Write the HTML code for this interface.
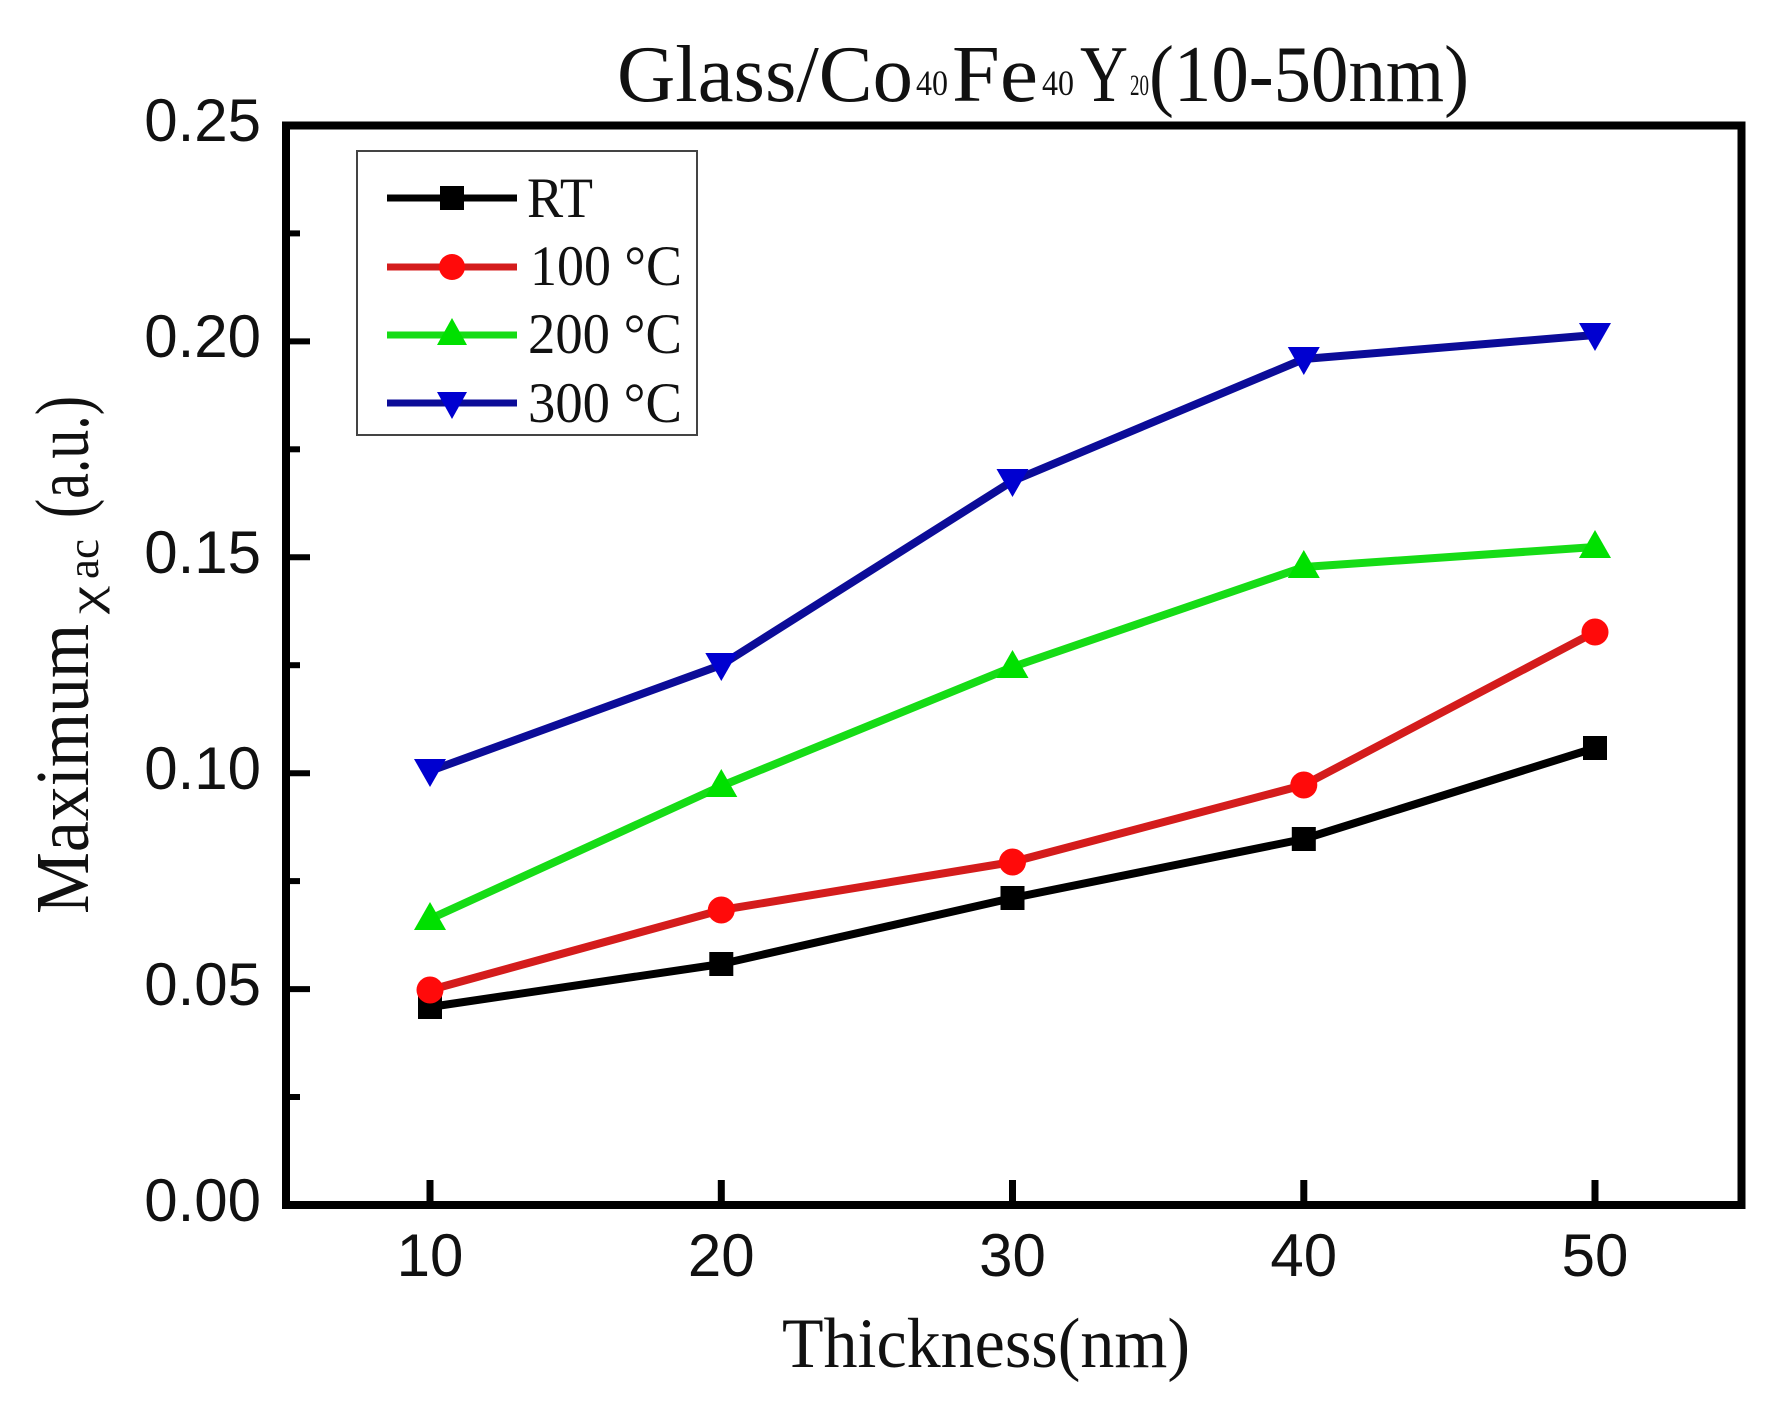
<!DOCTYPE html>
<html>
<head>
<meta charset="utf-8">
<style>
  html, body { margin: 0; padding: 0; background: #ffffff; }
  svg { display: block; }
  .serif { font-family: "Liberation Serif", "Times New Roman", serif; fill: #111; }
  .sans { font-family: "Liberation Sans", Arial, sans-serif; fill: #111; }
</style>
</head>
<body>
<svg width="1766" height="1402" viewBox="0 0 1766 1402" xmlns="http://www.w3.org/2000/svg">
  <rect x="0" y="0" width="1766" height="1402" fill="#ffffff"/>

  <!-- Title -->
  <text class="serif" x="617" y="101" font-size="80" textLength="296" lengthAdjust="spacingAndGlyphs">Glass/Co</text>
  <text class="serif" x="916" y="95" font-size="36" textLength="32" lengthAdjust="spacingAndGlyphs">40</text>
  <text class="serif" x="952" y="101" font-size="80" textLength="86" lengthAdjust="spacingAndGlyphs">Fe</text>
  <text class="serif" x="1042" y="95" font-size="36" textLength="32" lengthAdjust="spacingAndGlyphs">40</text>
  <text class="serif" x="1080" y="101" font-size="80" textLength="48" lengthAdjust="spacingAndGlyphs">Y</text>
  <text class="serif" x="1130" y="95" font-size="30" textLength="19" lengthAdjust="spacingAndGlyphs">20</text>
  <text class="serif" x="1149" y="101" font-size="80" textLength="320" lengthAdjust="spacingAndGlyphs">(10-50nm)</text>

  <!-- Y axis label (rotated) -->
  <g transform="translate(88,914) rotate(-90)">
    <text class="serif" x="0" y="0" font-size="76" textLength="290" lengthAdjust="spacingAndGlyphs">Maximum</text>
    <text class="serif" x="300" y="12" font-size="44" textLength="28" lengthAdjust="spacingAndGlyphs">χ</text>
    <text class="serif" x="335" y="10" font-size="44" textLength="40" lengthAdjust="spacingAndGlyphs">ac</text>
    <text class="serif" x="396" y="0" font-size="76" textLength="122" lengthAdjust="spacingAndGlyphs">(a.u.)</text>
  </g>

  <!-- X axis label -->
  <text class="serif" x="782" y="1367" font-size="71" textLength="408" lengthAdjust="spacingAndGlyphs">Thickness(nm)</text>

  <!-- Y ticks -->
  <g stroke="#000" stroke-width="6">
    <line x1="286" y1="989.1" x2="310" y2="989.1"/>
    <line x1="286" y1="773.2" x2="310" y2="773.2"/>
    <line x1="286" y1="557.3" x2="310" y2="557.3"/>
    <line x1="286" y1="341.4" x2="310" y2="341.4"/>
    <line x1="286" y1="1097.0" x2="300" y2="1097.0"/>
    <line x1="286" y1="881.1" x2="300" y2="881.1"/>
    <line x1="286" y1="665.2" x2="300" y2="665.2"/>
    <line x1="286" y1="449.3" x2="300" y2="449.3"/>
    <line x1="286" y1="233.4" x2="300" y2="233.4"/>
  </g>
  <!-- X ticks -->
  <g stroke="#000" stroke-width="7">
    <line x1="430" y1="1205" x2="430" y2="1180"/>
    <line x1="721.3" y1="1205" x2="721.3" y2="1180"/>
    <line x1="1012.5" y1="1205" x2="1012.5" y2="1180"/>
    <line x1="1303.8" y1="1205" x2="1303.8" y2="1180"/>
    <line x1="1595" y1="1205" x2="1595" y2="1180"/>
  </g>

  <!-- Y tick labels -->
  <g class="sans" font-size="60" text-anchor="end">
    <text x="261" y="1221">0.00</text>
    <text x="261" y="1005">0.05</text>
    <text x="261" y="789">0.10</text>
    <text x="261" y="573">0.15</text>
    <text x="261" y="357">0.20</text>
    <text x="261" y="141">0.25</text>
  </g>
  <!-- X tick labels -->
  <g class="sans" font-size="60" text-anchor="middle">
    <text x="430" y="1276">10</text>
    <text x="721.3" y="1276">20</text>
    <text x="1012.5" y="1276">30</text>
    <text x="1303.8" y="1276">40</text>
    <text x="1595" y="1276">50</text>
  </g>

  <!-- Series lines -->
  <g fill="none" stroke-width="8" stroke-linejoin="round" stroke-linecap="butt">
    <polyline stroke="#000000" points="430,1007 721.3,964 1012.5,898 1303.8,839 1595,748"/>
    <polyline stroke="#d41c1c" points="430,990 721.3,910 1012.5,862 1303.8,785 1595,632"/>
    <polyline stroke="#16dc16" points="430,919 721.3,786 1012.5,667 1303.8,567 1595,547"/>
    <polyline stroke="#0c0c98" points="430,771 721.3,665 1012.5,481 1303.8,359 1595,335"/>
  </g>

  <!-- Markers: RT squares -->
  <g fill="#000">
    <rect x="418" y="995" width="24" height="24"/>
    <rect x="709.3" y="952" width="24" height="24"/>
    <rect x="1000.5" y="886" width="24" height="24"/>
    <rect x="1291.8" y="827" width="24" height="24"/>
    <rect x="1583" y="736" width="24" height="24"/>
  </g>
  <!-- 100C circles -->
  <g fill="#ff0a0a">
    <circle cx="430" cy="990" r="13.5"/>
    <circle cx="721.3" cy="910" r="13.5"/>
    <circle cx="1012.5" cy="862" r="13.5"/>
    <circle cx="1303.8" cy="785" r="13.5"/>
    <circle cx="1595" cy="632" r="13.5"/>
  </g>
  <!-- 200C up triangles -->
  <g fill="#00e000">
    <polygon points="430,902 446,930 414,930"/>
    <polygon points="721.3,769 737.3,797 705.3,797"/>
    <polygon points="1012.5,650 1028.5,678 996.5,678"/>
    <polygon points="1303.8,550 1319.8,578 1287.8,578"/>
    <polygon points="1595,530 1611,558 1579,558"/>
  </g>
  <!-- 300C down triangles -->
  <g fill="#0000d0">
    <polygon points="414,759 446,759 430,787"/>
    <polygon points="705.3,653 737.3,653 721.3,681"/>
    <polygon points="996.5,469 1028.5,469 1012.5,497"/>
    <polygon points="1287.8,347 1319.8,347 1303.8,375"/>
    <polygon points="1579,323 1611,323 1595,351"/>
  </g>

  <!-- Legend -->
  <rect x="357" y="151" width="340" height="284" fill="#ffffff" stroke="#444" stroke-width="2"/>
  <g stroke-width="7" fill="none">
    <line x1="387" y1="198" x2="517" y2="198" stroke="#000"/>
    <line x1="387" y1="267" x2="517" y2="267" stroke="#d41c1c"/>
    <line x1="387" y1="335" x2="517" y2="335" stroke="#16dc16"/>
    <line x1="387" y1="403" x2="517" y2="403" stroke="#0c0c98"/>
  </g>
  <rect x="440" y="186" width="24" height="24" fill="#000"/>
  <circle cx="452" cy="267" r="13" fill="#ff0a0a"/>
  <polygon points="452,318 467,345 437,345" fill="#00e000"/>
  <polygon points="437,392 467,392 452,419" fill="#0000d0"/>
  <g class="serif" font-size="57">
    <text x="527" y="217" textLength="66" lengthAdjust="spacingAndGlyphs">RT</text>
    <text x="530" y="285" textLength="152" lengthAdjust="spacingAndGlyphs">100 °C</text>
    <text x="528" y="353" textLength="154" lengthAdjust="spacingAndGlyphs">200 °C</text>
    <text x="528" y="422" textLength="154" lengthAdjust="spacingAndGlyphs">300 °C</text>
  </g>

  <!-- Frame -->
  <rect x="286" y="125.5" width="1455.5" height="1079.5" fill="none" stroke="#000" stroke-width="8"/>
</svg>
</body>
</html>
